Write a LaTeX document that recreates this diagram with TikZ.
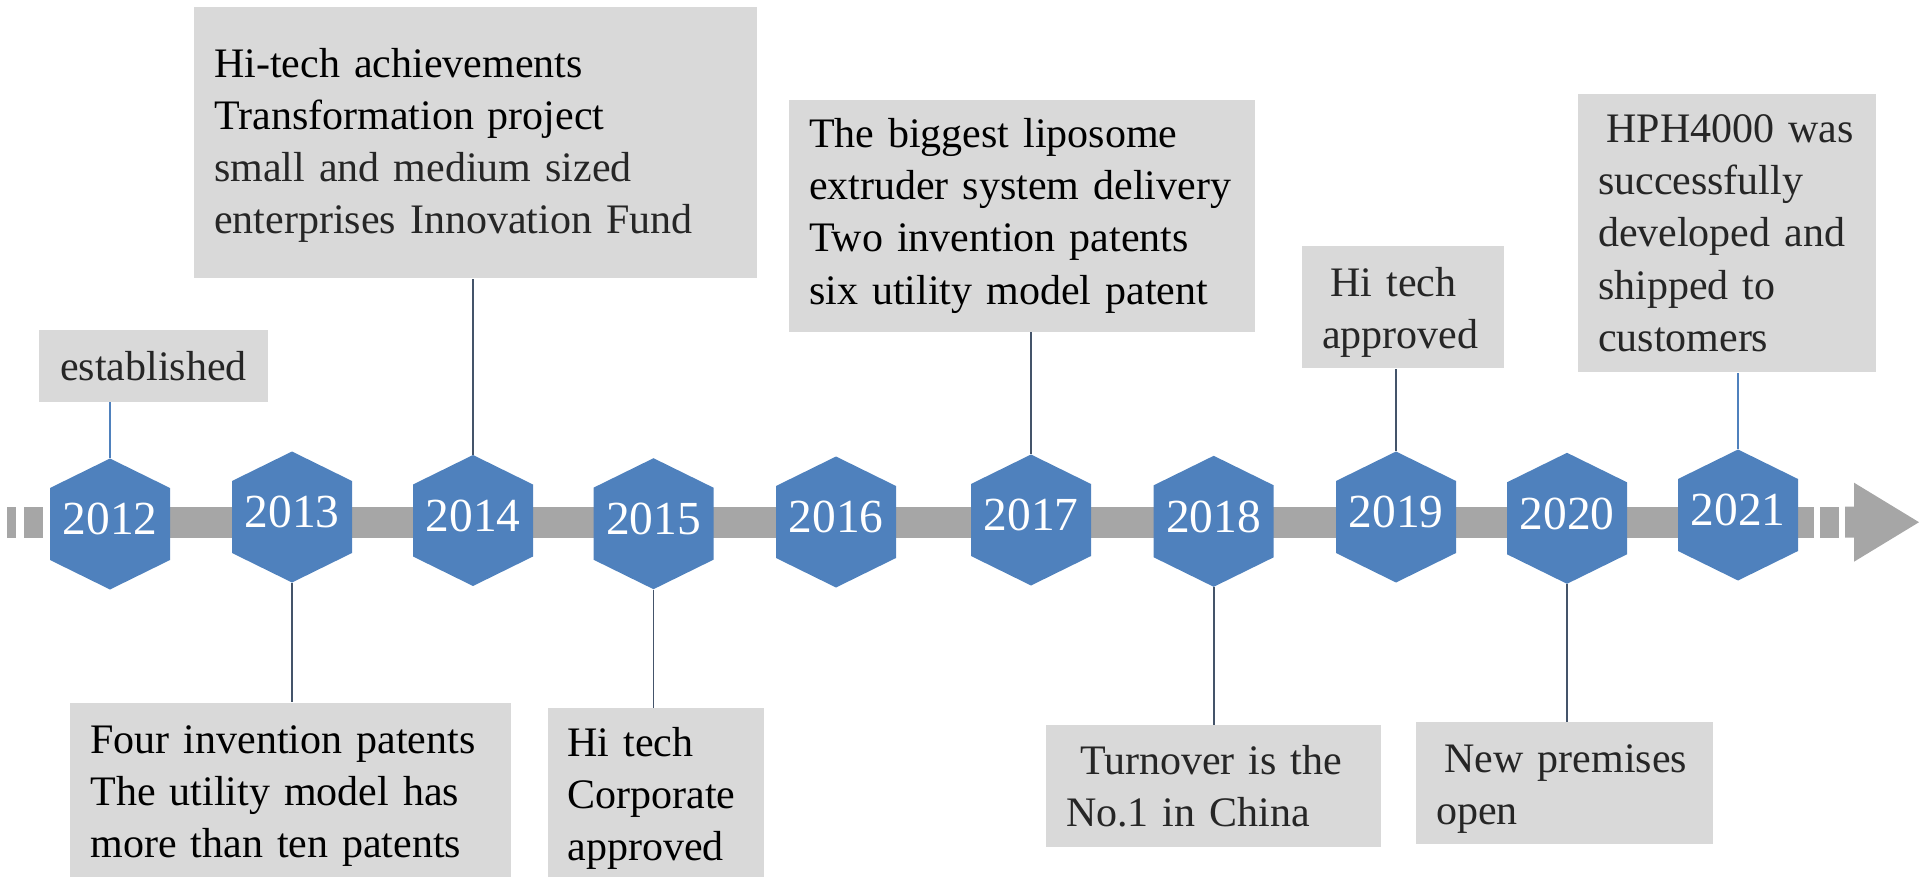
\documentclass[tikz,border=0pt]{standalone}
\usepackage{fontspec}
\setmainfont{Liberation Serif}

\definecolor{hexblue}{RGB}{79,129,189}
\definecolor{bargray}{RGB}{166,166,166}
\definecolor{notegray}{RGB}{217,217,217}
\definecolor{linkdark}{RGB}{68,84,106}
\definecolor{ink}{RGB}{38,38,38}

\newcommand{\topgap}[1]{\rule{0pt}{#1}}

\begin{document}
\begin{tikzpicture}

  \tikzstyle{bar} = [fill=bargray]
  \tikzstyle{yearhex} = [minimum width=2.4cm, minimum height=2.62cm, inner sep=0, text depth=0.2cm,
    text=white, font=\fontsize{27}{27}\selectfont,
    path picture={\fill[hexblue] (path picture bounding box.north)
      -- ([yshift=0.72cm]path picture bounding box.east) -- ([yshift=-0.72cm]path picture bounding box.east)
      -- (path picture bounding box.south)
      -- ([yshift=-0.72cm]path picture bounding box.west) -- ([yshift=0.72cm]path picture bounding box.west) -- cycle;}]
  \tikzstyle{note} = [fill=notegray, inner xsep=0.4cm, inner ysep=0, align=left, text=ink,
    font=\fontsize{23.9}{29.7}\selectfont]
  \tikzstyle{link} = [linkdark, line width=1pt]

  \useasboundingbox (0,0) rectangle (38.4,17.54);

  \fill[bar] (0.14,6.786) rectangle (0.32,7.406);
  \fill[bar] (0.48,6.786) rectangle (0.86,7.406);
  \fill[bar] (1.0,6.786) rectangle (36.28,7.406);
  \fill[bar] (36.4,6.786) rectangle (36.78,7.406);
  \fill[bar] (36.9,6.786) -- (37.08,6.786) -- (37.08,6.306) -- (38.38,7.096)
    -- (37.08,7.886) -- (37.08,7.406) -- (36.9,7.406) -- cycle;

  \node[yearhex] (y2012) at (2.20,7.06) {2012};
  \node[yearhex] (y2013) at (5.84,7.20) {2013};
  \node[yearhex] (y2014) at (9.46,7.13) {2014};
  \node[yearhex] (y2015) at (13.07,7.066) {2015};
  \node[yearhex] (y2016) at (16.72,7.10) {2016};
  \node[yearhex] (y2017) at (20.62,7.14) {2017};
  \node[yearhex] (y2018) at (24.274,7.114) {2018};
  \node[yearhex] (y2019) at (27.92,7.20) {2019};
  \node[yearhex] (y2020) at (31.34,7.174) {2020};
  \node[yearhex] (y2021) at (34.76,7.24) {2021};

  \node[note, align=center, text width=3.78cm, minimum height=1.434cm] (n2012) at (3.07,10.223) {established};
  \node[note, text=black, text width=8.006cm, minimum height=3.486cm] (n2013) at (5.811,1.743)
    {\topgap{0.8cm}Four invention patents\\The utility model has\\more than ten patents};
  \node[note, text width=10.45cm, minimum height=5.432cm] (n2014) at (9.509,14.69)
    {\topgap{0.7cm}\textcolor{black}{Hi-tech achievements}\\\textcolor{black}{Transformation project}\\small and medium sized\\enterprises Innovation Fund};
  \node[note, text=black, text width=3.53cm, minimum height=3.374cm] (n2015) at (13.115,1.687)
    {\topgap{0.82cm}Hi tech\\Corporate\\approved};
  \node[note, text=black, text width=8.52cm, minimum height=4.634cm] (n2017) at (20.44,13.223)
    {The biggest liposome\\extruder system delivery\\Two invention patents\\six utility model patent};
  \node[note, text width=5.894cm, minimum height=2.446cm] (n2018) at (24.267,1.817)
    {~Turnover is the\\No.1 in China};
  \node[note, text width=3.232cm, minimum height=2.446cm] (n2019) at (28.056,11.397)
    {\topgap{0.8cm}\hspace{0.2em}Hi tech\\approved};
  \node[note, text width=5.148cm, minimum height=2.44cm] (n2020) at (31.294,1.874)
    {\topgap{0.8cm}\hspace{0.2em}New premises\\open};
  \node[note, text width=5.16cm, minimum height=5.566cm] (n2021) at (34.54,12.877)
    {\mbox{\hspace{0.2em}HPH4000 was}\\successfully\\developed and\\shipped to\\customers};

  \draw[link, hexblue] (y2012.north) -- (y2012.north |- n2012.south);
  \draw[link] (y2013.south) -- (y2013.south |- n2013.north);
  \draw[link] (y2014.north) -- (y2014.north |- n2014.south);
  \draw[link] (y2015.south) -- (y2015.south |- n2015.north);
  \draw[link] (y2017.north) -- (y2017.north |- n2017.south);
  \draw[link] (y2018.south) -- (y2018.south |- n2018.north);
  \draw[link] (y2019.north) -- (y2019.north |- n2019.south);
  \draw[link] (y2020.south) -- (y2020.south |- n2020.north);
  \draw[link, hexblue] (y2021.north) -- (y2021.north |- n2021.south);

\end{tikzpicture}
\end{document}
